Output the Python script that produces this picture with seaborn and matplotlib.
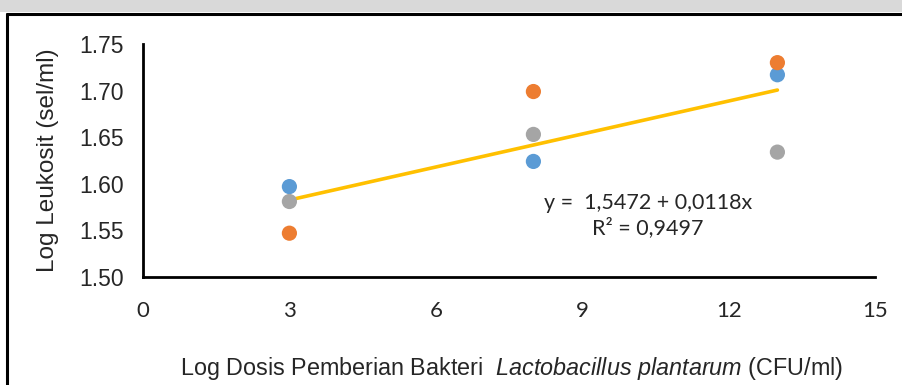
import numpy as np
import pandas as pd
import matplotlib
matplotlib.use('Agg')
import matplotlib.pyplot as plt
import seaborn as sns
from matplotlib.patches import Rectangle
from matplotlib.lines import Line2D

# Data
dose = [3, 8, 13]
series_a = [1.597, 1.624, 1.717]   # blue
series_b = [1.547, 1.699, 1.730]   # orange
series_c = [1.581, 1.653, 1.634]   # gray
series_names = ['A', 'B', 'C']
colors = ['#5B9BD5', '#ED7D31', '#A5A5A5']

# trend line from the printed equation
intercept = 1.5472
slope = 0.0118
r2 = 0.9497

xticks = [0, 3, 6, 9, 12, 15]
yticks = [1.50, 1.55, 1.60, 1.65, 1.70, 1.75]

df = pd.DataFrame({
    'dose': dose * 3,
    'leuko': series_a + series_b + series_c,
    'grp': [n for n in series_names for _ in dose],
})

sns.set_theme(style='white')
plt.rcParams['font.family'] = ['Liberation Sans', 'DejaVu Sans']
plt.rcParams['mathtext.fontset'] = 'custom'
plt.rcParams['mathtext.it'] = 'Liberation Sans:italic'
plt.rcParams['mathtext.rm'] = 'Liberation Sans'

fig = plt.figure(figsize=(9.03, 3.85), dpi=100)
ax = fig.add_axes([143/903, 1 - 277/385, 732/903, 233/385])

# frame of the original figure
fig.patches.append(Rectangle((0, 1 - 12/385), 1, 12/385, transform=fig.transFigure,
                             facecolor='#D9D9D9', edgecolor='none', zorder=0))
fig.lines.append(Line2D([7/903, 1], [1 - 13.5/385] * 2, transform=fig.transFigure,
                        color='black', lw=2.2))
fig.lines.append(Line2D([7/903] * 2, [0, 1 - 13.5/385], transform=fig.transFigure,
                        color='black', lw=2.2))

xs = np.array([dose[0], dose[-1]])
ax.plot(xs, intercept + slope * xs, color='#FFC000', lw=2.6, zorder=3,
        solid_capstyle='round')

sns.scatterplot(data=df, x='dose', y='leuko', hue='grp', palette=colors,
                s=120, edgecolor='none', legend=False, ax=ax, zorder=4)

ax.set_xlim(0, 15)
ax.set_ylim(1.50, 1.75)
ax.set_xticks(xticks)
ax.set_yticks(yticks)
ax.set_yticklabels([f'{v:.2f}' for v in yticks], fontsize=16.5)
ax.set_xticklabels([str(v) for v in xticks], fontsize=16,
                   family=['Lato', 'Liberation Sans'])
ax.tick_params(axis='y', length=0, pad=14)
ax.tick_params(axis='x', length=0, pad=17)

for s in ['top', 'right']:
    ax.spines[s].set_visible(False)
for s in ['left', 'bottom']:
    ax.spines[s].set_color('black')
    ax.spines[s].set_linewidth(2)

ax.set_ylabel('Log Leukosit (sel/ml)', fontsize=17.5)
ax.yaxis.set_label_coords(-0.115, 0.5)
ax.set_xlabel(r'Log Dosis Pemberian Bakteri  $\it{Lactobacillus\ plantarum}$ (CFU/ml)',
              fontsize=16.8)
ax.xaxis.set_label_coords(0.504, -0.335)

eq = f'y =  {intercept:.4f} + {slope:.4f}x'.replace('.', ',')
ax.text(0.69, 0.318, eq, transform=ax.transAxes, ha='center', va='center',
        fontsize=15.5, family=['Lato', 'DejaVu Sans'])
ax.text(0.69, 0.21, f'R² = {r2:.4f}'.replace('.', ','), transform=ax.transAxes,
        ha='center', va='center', fontsize=15.5, family=['Lato', 'DejaVu Sans'])

fig.savefig('out.png', dpi=100)
